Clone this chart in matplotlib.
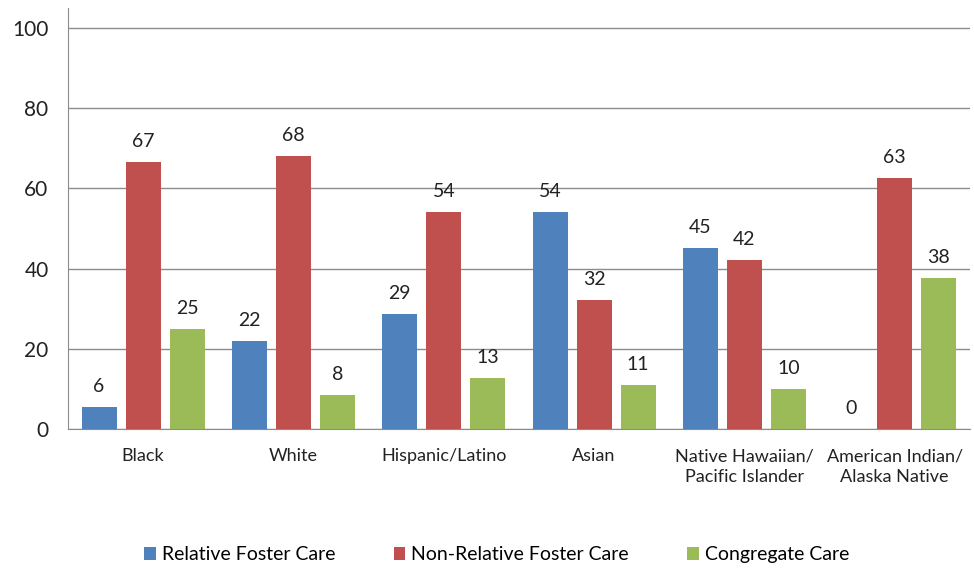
import matplotlib.pyplot as plt
import numpy as np

plt.rcParams['font.family'] = ['Lato', 'DejaVu Sans']

categories = ['Black', 'White', 'Hispanic/Latino', 'Asian',
              'Native Hawaiian/\nPacific Islander', 'American Indian/\nAlaska Native']
relative = [5.5, 21.9, 28.7, 54.1, 45.1, 0]
non_relative = [66.7, 68.1, 54.1, 32.2, 42.1, 62.6]
congregate = [24.9, 8.5, 12.7, 11.0, 10.0, 37.6]
series_names = ['Relative Foster Care', 'Non-Relative Foster Care', 'Congregate Care']
colors = ['#4F81BD', '#C0504D', '#9BBB59']

fig = plt.figure(figsize=(9.74, 5.69), dpi=100)
ax = fig.add_axes([0.0698, 0.246, 0.926, 0.74])

x = np.arange(len(categories))
width = 0.233
offset = 0.293

for i, (vals, name, c) in enumerate(zip([relative, non_relative, congregate], series_names, colors)):
    pos = x + (i - 1) * offset
    ax.bar(pos, vals, width, color=c, label=name, zorder=3)
    for px, v in zip(pos, vals):
        ax.text(px, v + 3, f"{round(v):d}", ha='center', va='bottom', fontsize=14, color='#222222')

ax.set_ylim(0, 105)
ax.set_xlim(-0.5, len(categories) - 0.5)
ax.set_yticks([0, 20, 40, 60, 80, 100])
ax.yaxis.grid(True, color='#8c8c8c', linewidth=1, zorder=0)
ax.set_xticks(x)
ax.set_xticklabels(categories, fontsize=13, color='#222222', linespacing=1.35)
ax.tick_params(axis='y', labelsize=15, colors='#222222', length=0, pad=14)
ax.tick_params(axis='x', length=0, pad=14)
for s in ['top', 'right']:
    ax.spines[s].set_visible(False)
ax.spines['left'].set_color('#8c8c8c')
ax.spines['bottom'].set_color('#8c8c8c')

fig.legend(loc='center', bbox_to_anchor=(0.51, 0.025), ncol=3, frameon=False,
           fontsize=14, handlelength=0.6, handleheight=0.7, handletextpad=0.3,
           columnspacing=3.0)

plt.savefig('out.png', dpi=100)
